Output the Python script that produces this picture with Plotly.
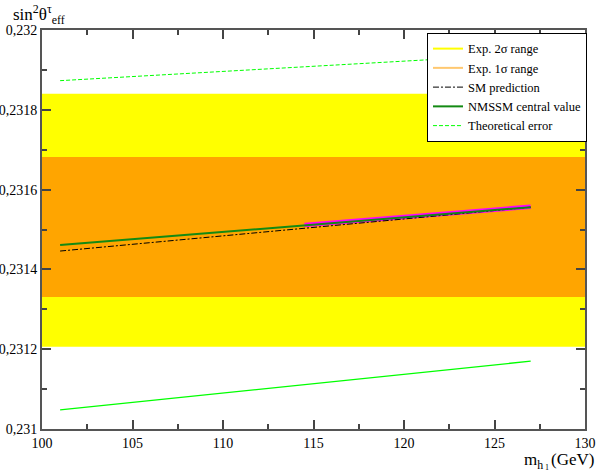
import plotly.graph_objects as go

# ---- data ----
x_range = [100, 130]
exp_2sigma = [0.231206, 0.231840]   # yellow band (low, high)
exp_1sigma = [0.231331, 0.231682]   # orange band (low, high)

mh = [101.0, 127.0]
sm_pred = [0.231446, 0.231556]
nmssm_central = [0.231461, 0.231556]
theo_upper = [0.231873, 0.231940]
theo_lower = [0.231048, 0.231170]

mh_magenta = [114.5, 127.0]
magenta_vals = [0.231511, 0.231557]

y_tickvals = [0.231, 0.2312, 0.2314, 0.2316, 0.2318, 0.232]
y_ticktext = ["0,231", "0,2312", "0,2314", "0,2316", "0,2318", "0,232"]
x_tickvals = [100, 105, 110, 115, 120, 125, 130]

YELLOW = "#FFFF00"
ORANGE = "#FFA500"
DKGREEN = "#138A13"
LTGREEN = "#00FF00"
MAGENTA = "#FF00FF"
FONT = "Times New Roman, Liberation Serif, serif"

fig = go.Figure()

def band(lo_hi, color):
    fig.add_trace(go.Scatter(
        x=[x_range[0], x_range[1], x_range[1], x_range[0]],
        y=[lo_hi[0], lo_hi[0], lo_hi[1], lo_hi[1]],
        fill="toself", fillcolor=color, mode="none",
        showlegend=False, hoverinfo="skip"))

band(exp_2sigma, YELLOW)
band(exp_1sigma, ORANGE)

# legend-only entries for bands
fig.add_trace(go.Scatter(x=[None], y=[None], mode="lines",
                         line=dict(color=YELLOW, width=2), name="Exp. 2σ range"))
fig.add_trace(go.Scatter(x=[None], y=[None], mode="lines",
                         line=dict(color="#FFC870", width=2), name="Exp. 1σ range"))

fig.add_trace(go.Scatter(x=mh_magenta, y=magenta_vals, mode="lines",
                         line=dict(color=MAGENTA, width=4.5), showlegend=False))
fig.add_trace(go.Scatter(x=mh, y=sm_pred, mode="lines",
                         line=dict(color="black", width=1, dash="6px,2px,2px,2px"),
                         name="SM prediction"))
fig.add_trace(go.Scatter(x=mh, y=nmssm_central, mode="lines",
                         line=dict(color=DKGREEN, width=2),
                         name="NMSSM central value"))
fig.add_trace(go.Scatter(x=mh, y=theo_upper, mode="lines",
                         line=dict(color=LTGREEN, width=1, dash="4px,2px"),
                         name="Theoretical error"))
fig.add_trace(go.Scatter(x=mh, y=theo_lower, mode="lines",
                         line=dict(color=LTGREEN, width=1.3),
                         showlegend=False))

axis_common = dict(
    showgrid=False, zeroline=False, showline=True, linecolor="#555555",
    linewidth=2, mirror="allticks", ticks="inside", ticklen=9, tickwidth=1.5,
    tickcolor="#444444", tickfont=dict(family=FONT, size=14, color="black"),
    automargin=False,
)

fig.update_xaxes(range=x_range, tickvals=x_tickvals,
                 minor=dict(dtick=2.5, ticks="inside", ticklen=5, tickcolor="#444444", tickwidth=1.5),
                 **axis_common)
fig.update_yaxes(range=[0.231, 0.232], tickvals=y_tickvals, ticktext=y_ticktext,
                 minor=dict(dtick=0.0001, ticks="inside", ticklen=5, tickcolor="#444444", tickwidth=1.5),
                 **axis_common)

fig.update_layout(
    width=599, height=471, autosize=False,
    margin=dict(l=42, r=12, t=30, b=42),
    plot_bgcolor="white", paper_bgcolor="white",
    font=dict(family=FONT, color="black"),
    legend=dict(x=(589 - 42) / 545, y=0.9925, xanchor="right", yanchor="top",
                bgcolor="white", bordercolor="black", borderwidth=1,
                font=dict(family=FONT, size=12.5), tracegroupgap=0,
                itemwidth=30),
    annotations=[
        dict(text="sin<sup>2</sup>θ<sup>τ</sup><sub>eff</sub>", xref="paper", yref="paper",
             x=-0.057, y=1.075, xanchor="left", yanchor="top", showarrow=False,
             font=dict(family=FONT, size=17)),
        dict(text="m<sub>h</sub>", xref="paper", yref="paper",
             x=(524 - 42) / 545, y=-0.047, xanchor="left", yanchor="top", showarrow=False,
             font=dict(family=FONT, size=17)),
        dict(text="1", xref="paper", yref="paper",
             x=(545 - 42) / 545, y=-0.081, xanchor="left", yanchor="top", showarrow=False,
             font=dict(family=FONT, size=8)),
        dict(text="(GeV)", xref="paper", yref="paper",
             x=1.02, y=-0.047, xanchor="right", yanchor="top", showarrow=False,
             font=dict(family=FONT, size=17)),
    ],
)

fig.write_html(
    "out.html",
    config={"responsive": False, "displayModeBar": False},
    post_script="document.body.style.margin='0';document.body.style.overflow='hidden';",
)
